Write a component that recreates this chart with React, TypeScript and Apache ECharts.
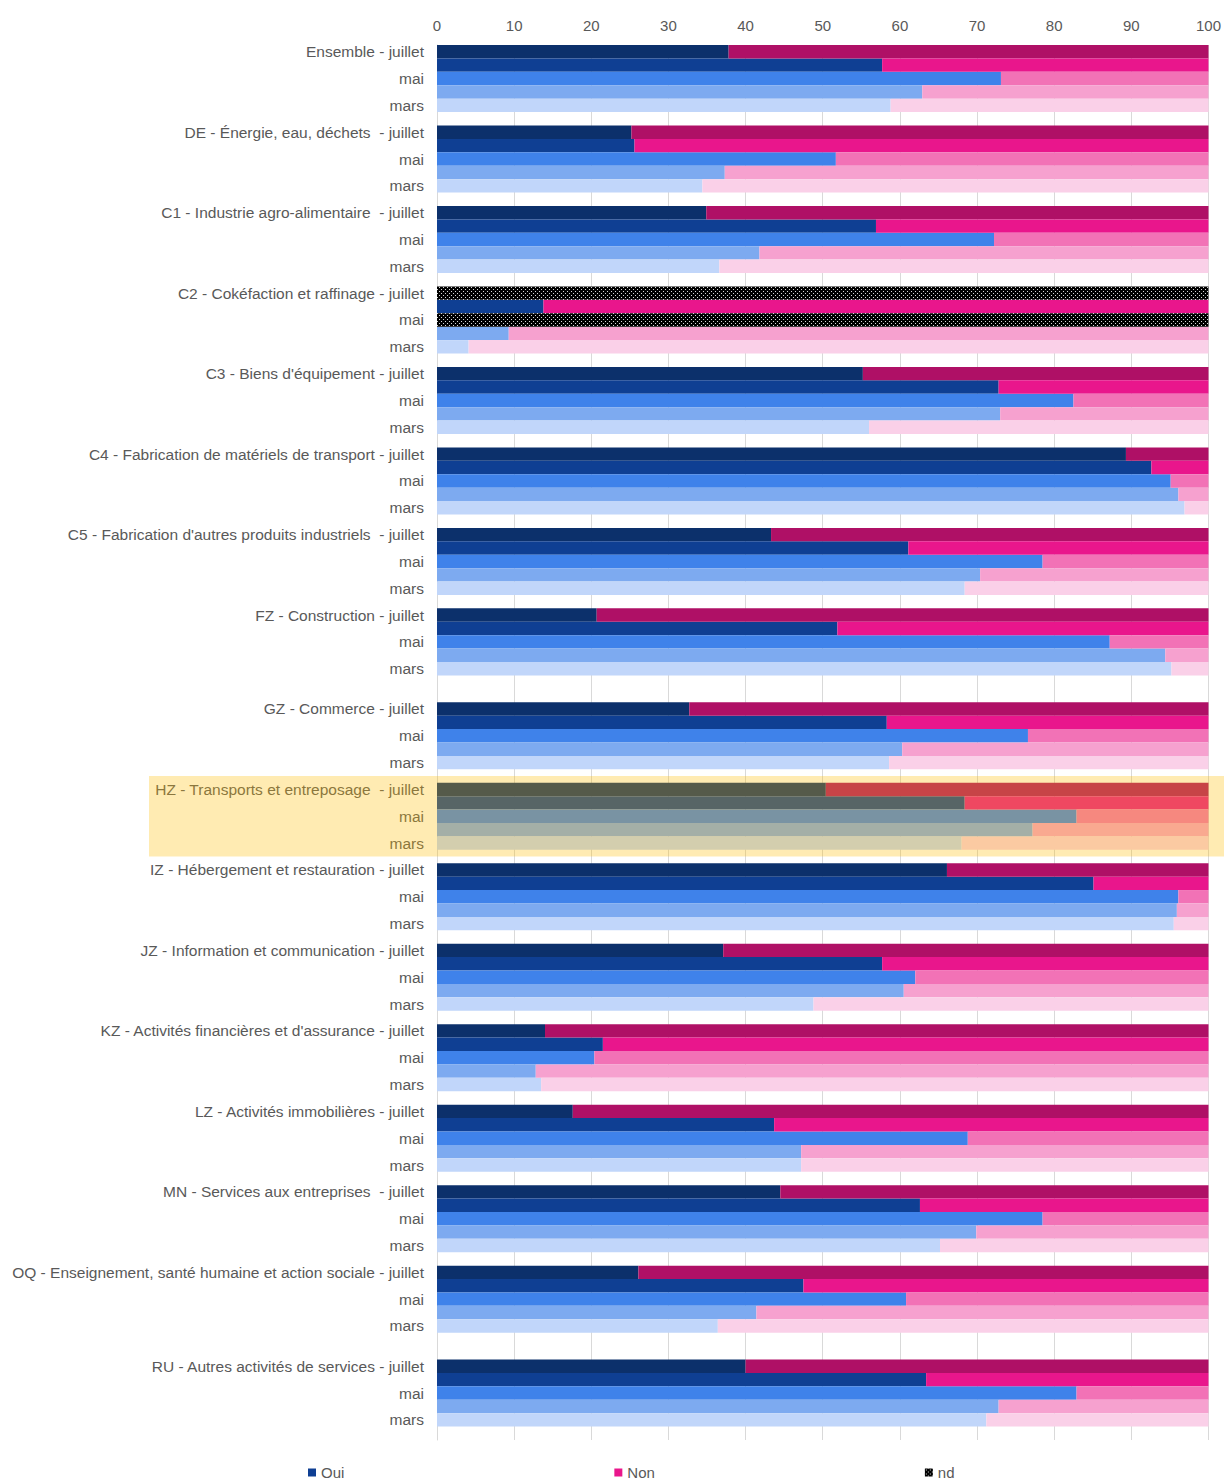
import React, { useEffect, useRef } from "react";
import * as echarts from "echarts";

const GROUPS = [
  "Ensemble",
  "DE - Énergie, eau, déchets ",
  "C1 - Industrie agro-alimentaire ",
  "C2 - Cokéfaction et raffinage",
  "C3 - Biens d'équipement",
  "C4 - Fabrication de matériels de transport",
  "C5 - Fabrication d'autres produits industriels ",
  "FZ - Construction",
  "GZ - Commerce",
  "HZ - Transports et entreposage ",
  "IZ - Hébergement et restauration",
  "JZ - Information et communication",
  "KZ - Activités financières et d'assurance",
  "LZ - Activités immobilières",
  "MN - Services aux entreprises ",
  "OQ - Enseignement, santé humaine et action sociale",
  "RU - Autres activités de services",
];
const MONTHS = ["juillet", "juin", "mai", "avril", "mars"];
const SHOWN_MONTHS = ["juillet", "mai", "mars"];
const EXTRA_GAP_AFTER = [7, 15];
const HIGHLIGHT_GROUP = 9;
const X_TICKS = [0, 10, 20, 30, 40, 50, 60, 70, 80, 90, 100];

const OUI_JUILLET = [37.8, 25.2, 34.9, null, 55.2, 89.3, 43.3, 20.7, 32.7, 50.4, 66.1, 37.1, 14.0, 17.6, 44.5, 26.1, 40.0];
const OUI_JUIN = [57.7, 25.6, 56.9, 13.8, 72.8, 92.6, 61.1, 51.9, 58.3, 68.4, 85.1, 57.7, 21.5, 43.7, 62.6, 47.5, 63.4];
const OUI_MAI = [73.1, 51.7, 72.2, null, 82.5, 95.1, 78.5, 87.2, 76.6, 82.9, 96.1, 62.0, 20.4, 68.8, 78.5, 60.8, 82.9];
const OUI_AVRIL = [62.9, 37.3, 41.8, 9.3, 73.0, 96.1, 70.4, 94.4, 60.3, 77.2, 95.9, 60.5, 12.8, 47.2, 69.9, 41.4, 72.8];
const OUI_MARS = [58.8, 34.4, 36.6, 4.1, 56.0, 96.9, 68.4, 95.2, 58.6, 68.0, 95.5, 48.8, 13.5, 47.2, 65.2, 36.4, 71.2];

const NON_JUILLET = [62.2, 74.8, 65.1, null, 44.8, 10.7, 56.7, 79.3, 67.3, 49.6, 33.9, 62.9, 86.0, 82.4, 55.5, 73.9, 60.0];
const NON_JUIN = [42.3, 74.4, 43.1, 86.2, 27.2, 7.4, 38.9, 48.1, 41.7, 31.6, 14.9, 42.3, 78.5, 56.3, 37.4, 52.5, 36.6];
const NON_MAI = [26.9, 48.3, 27.8, null, 17.5, 4.9, 21.5, 12.8, 23.4, 17.1, 3.9, 38.0, 79.6, 31.2, 21.5, 39.2, 17.1];
const NON_AVRIL = [37.1, 62.7, 58.2, 90.7, 27.0, 3.9, 29.6, 5.6, 39.7, 22.8, 4.1, 39.5, 87.2, 52.8, 30.1, 58.6, 27.2];
const NON_MARS = [41.2, 65.6, 63.4, 95.9, 44.0, 3.1, 31.6, 4.8, 41.4, 32.0, 4.5, 51.2, 86.5, 52.8, 34.8, 63.6, 28.8];

const ND_JUILLET = [null, null, null, 100, null, null, null, null, null, null, null, null, null, null, null, null, null];
const ND_JUIN = [null, null, null, null, null, null, null, null, null, null, null, null, null, null, null, null, null];
const ND_MAI = [null, null, null, 100, null, null, null, null, null, null, null, null, null, null, null, null, null];
const ND_AVRIL = [null, null, null, null, null, null, null, null, null, null, null, null, null, null, null, null, null];
const ND_MARS = [null, null, null, null, null, null, null, null, null, null, null, null, null, null, null, null, null];

const OUI_BY_MONTH = [OUI_JUILLET, OUI_JUIN, OUI_MAI, OUI_AVRIL, OUI_MARS];
const NON_BY_MONTH = [NON_JUILLET, NON_JUIN, NON_MAI, NON_AVRIL, NON_MARS];
const ND_BY_MONTH = [ND_JUILLET, ND_JUIN, ND_MAI, ND_AVRIL, ND_MARS];

const OUI_COLORS = ["#0C306B", "#0F3F93", "#3F82EA", "#7DAAF0", "#C1D6FA"];
const NON_COLORS = ["#AF1066", "#E9168C", "#F272B6", "#F6A1CF", "#FAD0E8"];

function makePattern(): string {
  const c = document.createElement("canvas");
  c.width = 4;
  c.height = 4;
  const ctx = c.getContext("2d")!;
  ctx.fillStyle = "#000";
  ctx.fillRect(0, 0, 4, 4);
  ctx.fillStyle = "#d8d8d8";
  ctx.fillRect(1, 1, 1, 1);
  ctx.fillRect(3, 3, 1, 1);
  return c.toDataURL();
}

export default function App() {
  const ref = useRef<HTMLDivElement>(null);

  useEffect(() => {
    document.body.style.margin = "0";
    const chart = echarts.init(ref.current!, null, { renderer: "svg" });

    const cats: string[] = [];
    const labels: string[] = [];
    const oui: any[] = [];
    const non: any[] = [];
    const nd: any[] = [];
    let firstHZ = -1;
    let lastHZ = -1;
    const pushGap = () => {
      cats.push("gap" + cats.length);
      labels.push("");
      oui.push(null);
      non.push(null);
      nd.push(null);
    };
    GROUPS.forEach((g, gi) => {
      MONTHS.forEach((m, mi) => {
        const idx = cats.length;
        if (gi === HIGHLIGHT_GROUP) {
          if (firstHZ < 0) firstHZ = idx;
          lastHZ = idx;
        }
        cats.push(gi + "|" + m);
        if (SHOWN_MONTHS.includes(m)) {
          labels.push(mi === 0 ? g + " - " + m : m);
        } else labels.push("");
        const o = OUI_BY_MONTH[mi][gi];
        const n = NON_BY_MONTH[mi][gi];
        const d = ND_BY_MONTH[mi][gi];
        oui.push(o == null ? null : { value: o, itemStyle: { color: OUI_COLORS[mi] } });
        non.push(n == null ? null : { value: n, itemStyle: { color: NON_COLORS[mi] } });
        nd.push(d == null ? null : d);
      });
      pushGap();
      if (EXTRA_GAP_AFTER.includes(gi)) pushGap();
    });

    const pattern = { image: makePattern(), repeat: "repeat" };
    const font = "'Liberation Sans', Arial, sans-serif";

    chart.setOption({
      animation: false,
      grid: { left: 437, right: 14, top: 45, bottom: 40, containLabel: false },
      legend: {
        data: ["Oui", "Non", "nd"],
        left: 308,
        top: 1465,
        padding: 0,
        itemWidth: 8,
        itemHeight: 8,
        itemGap: 270,
        icon: "rect",
        textStyle: { fontFamily: font, fontSize: 15, color: "#595959" },
      },
      xAxis: {
        type: "value",
        position: "top",
        min: X_TICKS[0],
        max: X_TICKS[X_TICKS.length - 1],
        interval: 10,
        axisLine: { show: false },
        axisTick: { show: false },
        axisLabel: { fontFamily: font, fontSize: 15, color: "#595959", margin: 12 },
        splitLine: { show: true, lineStyle: { color: "#D9D9D9", width: 1 } },
      },
      yAxis: {
        type: "category",
        inverse: true,
        data: cats,
        axisLine: { show: true, lineStyle: { color: "#D9D9D9" } },
        axisTick: { show: false },
        axisLabel: {
          interval: 0,
          fontFamily: font,
          fontSize: 15.5,
          color: "#595959",
          margin: 13,
          formatter: (_v: string, i: number) => labels[i],
        },
      },
      series: [
        {
          name: "Oui",
          type: "bar",
          stack: "total",
          barCategoryGap: "0%",
          itemStyle: { color: "#0F3F93" },
          data: oui,
        },
        {
          name: "Non",
          type: "bar",
          stack: "total",
          barCategoryGap: "0%",
          itemStyle: { color: "#E9168C" },
          data: non,
        },
        {
          name: "nd",
          type: "bar",
          stack: "total",
          barCategoryGap: "0%",
          itemStyle: { color: pattern },
          data: nd,
        },
      ],
    });

    const yA = chart.convertToPixel({ yAxisIndex: 0 }, firstHZ) as number;
    const yB = chart.convertToPixel({ yAxisIndex: 0 }, lastHZ) as number;
    const slot = (1480 - 45 - 40) / cats.length;
    chart.setOption({
      graphic: [
        {
          type: "rect",
          silent: true,
          z: 100,
          shape: { x: 149, y: yA - slot, width: 1224 - 149 + 10, height: yB - yA + 2 * slot },
          style: { fill: "rgba(255,190,0,0.3)" },
        },
      ],
    });

    return () => chart.dispose();
  }, []);

  return <div ref={ref} style={{ width: 1224, height: 1480 }} />;
}
